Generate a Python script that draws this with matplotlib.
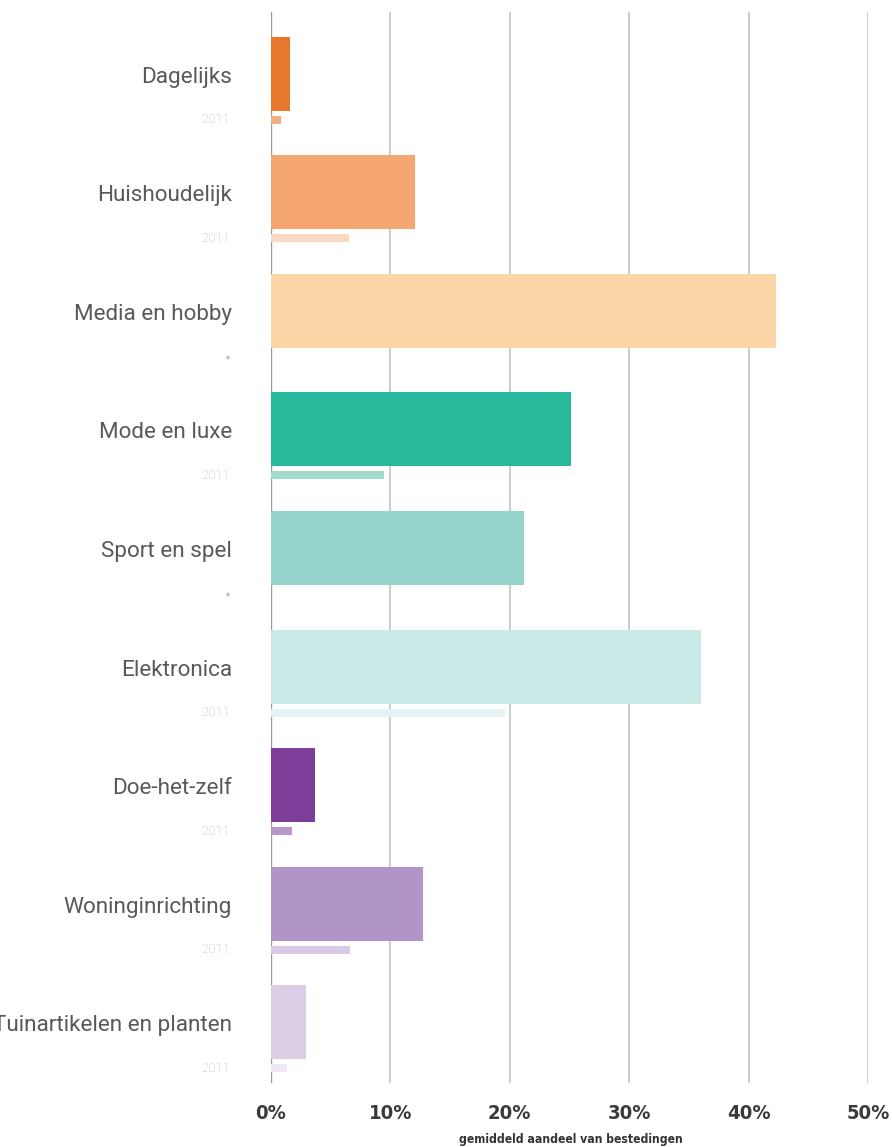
import matplotlib
matplotlib.use("Agg")
import matplotlib.pyplot as plt
from matplotlib.transforms import blended_transform_factory

categories = ["Dagelijks", "Huishoudelijk", "Media en hobby", "Mode en luxe",
              "Sport en spel", "Elektronica", "Doe-het-zelf", "Woninginrichting",
              "Tuinartikelen en planten"]
values_now = [1.6, 12.1, 42.3, 25.1, 21.2, 36.0, 3.7, 12.7, 2.9]
values_2011 = [0.8, 6.5, None, 9.5, None, 19.6, 1.8, 6.6, 1.3]
colors_now = ["#E8772E", "#F5A670", "#FDD6A8", "#27B99A", "#94D4CC", "#C8E9E6",
              "#7C3E98", "#B095C6", "#DACFE6"]
colors_2011 = ["#F3AE82", "#FAD9C2", None, "#A2DACB", None, "#E4F3F1",
               "#B897CB", "#D8C9E4", "#EEE8F4"]
xticks = [0, 10, 20, 30, 40, 50]
xtick_labels = ["0%", "10%", "20%", "30%", "40%", "50%"]
xlabel = "gemiddeld aandeel van bestedingen"

W, H = 892, 1147
fig = plt.figure(figsize=(W / 100, H / 100), dpi=100)
x0, x1 = 271, 868
ytop, ybot = 12, 1083
ax = fig.add_axes([x0 / W, 1 - ybot / H, (x1 - x0) / W, (ybot - ytop) / H])

row = 118.6
first_center = 73.5
main_h = 74 / row
thin_h = 8 / row
thin_off = 46 / row

for i, (cat, v, v11, c, c11) in enumerate(zip(categories, values_now, values_2011,
                                                colors_now, colors_2011)):
    ax.barh(i, v, height=main_h, color=c, zorder=3)
    if v11 is not None:
        ax.barh(i + thin_off, v11, height=thin_h, color=c11, zorder=3)

ax.set_xlim(0, 50)
ax.set_ylim((ybot - first_center) / row, (ytop - first_center) / row)

for t in xticks[1:]:
    ax.axvline(t, color="#c8c8c8", lw=1.3, zorder=1)
ax.axvline(0, color="#999999", lw=1.0, zorder=2)

for s in ax.spines.values():
    s.set_visible(False)
ax.set_yticks([])
ax.set_xticks(xticks)
ax.set_xticklabels(xtick_labels, fontsize=14.5, fontweight="bold", fontstretch="condensed",
                   color="#3a3a3a", family=["DejaVu Sans", "Roboto"])
ax.tick_params(axis="x", length=0, pad=15)

tr = blended_transform_factory(ax.transAxes, ax.transData)
lx = (232 - x0) / (x1 - x0)
for i, (cat, v11) in enumerate(zip(categories, values_2011)):
    ax.text(lx, i + 0.03, cat, transform=tr, ha="right", va="center",
            fontsize=16.2, color="#595959", family="Roboto", fontweight="normal")
    if v11 is not None:
        ax.text(lx - 0.003, i + thin_off, "2011", transform=tr, ha="right", va="center",
                fontsize=9.5, color="#b8b8b8", family="Roboto", fontweight="light")
    else:
        ax.text(lx - 0.003, i + thin_off + 0.02, "*", transform=tr, ha="right", va="center",
                fontsize=7, color="#a0a0a0", family="Roboto")

fig.text(571 / W, 1 - 1139 / H, xlabel, ha="center", va="center", fontsize=8.7,
         fontweight="bold", fontstretch="condensed", color="#333333",
         family=["DejaVu Sans", "Roboto"])

fig.savefig("out.png", dpi=100, facecolor="white")
